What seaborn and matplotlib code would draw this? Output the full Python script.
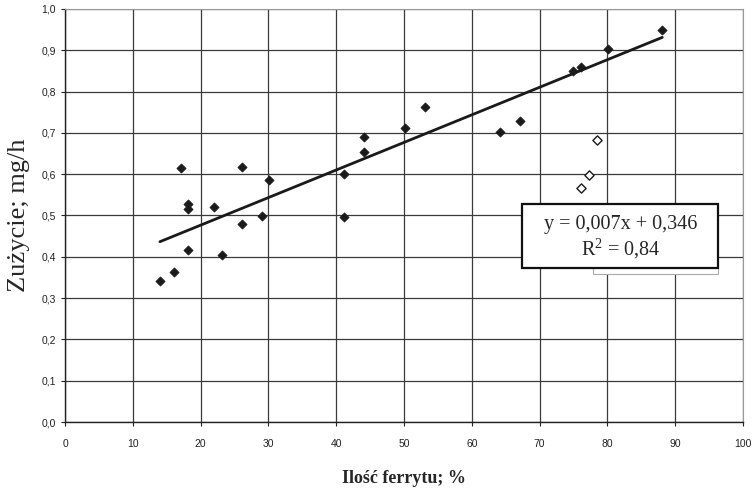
import numpy as np
import pandas as pd
import matplotlib
matplotlib.use("Agg")
import matplotlib.pyplot as plt
from matplotlib.patches import Rectangle
import seaborn as sns

# punkty pomiarowe - ferryt [%] i zuzycie [mg/h]
ferryt = [14.0, 16.1, 17.1, 18.1, 18.1, 18.1, 22.0, 23.2, 26.1, 26.1, 29.1, 30.1,
          41.2, 41.2, 44.1, 44.1, 50.1, 53.1, 64.2, 67.1, 74.9, 76.1, 80.1, 88.1]
zuzycie = [0.341, 0.363, 0.615, 0.528, 0.516, 0.416, 0.521, 0.404, 0.617, 0.479, 0.499, 0.586,
           0.600, 0.496, 0.690, 0.654, 0.712, 0.763, 0.702, 0.729, 0.850, 0.860, 0.903, 0.949]
# punkty odstajace (puste romby)
ferryt_odst = [76.1, 77.3, 78.5]
zuzycie_odst = [0.567, 0.598, 0.683]

x_ticks = list(range(0, 101, 10))
y_ticks = [i / 10 for i in range(0, 11)]
y_labels = ["0,0", "0,1", "0,2", "0,3", "0,4", "0,5", "0,6", "0,7", "0,8", "0,9", "1,0"]
rownanie = "y = 0,007x + 0,346"
r2 = "R$^2$ = 0,84"

df = pd.DataFrame({"ferryt": ferryt, "zuzycie": zuzycie})
df_o = pd.DataFrame({"ferryt": ferryt_odst, "zuzycie": zuzycie_odst})

sns.set_style("white")
plt.rcParams['font.family'] = ['Liberation Sans', 'DejaVu Sans']
plt.rcParams['mathtext.fontset'] = 'custom'
plt.rcParams['mathtext.rm'] = 'Liberation Serif'

fig = plt.figure(figsize=(7.55, 4.97), dpi=100)
ax = fig.add_axes([0.0861, 0.1509, 0.898, 0.831])

# linia trendu
sns.regplot(data=df, x="ferryt", y="zuzycie", scatter=False, ci=None, ax=ax,
            line_kws=dict(color="#1a1a1a", lw=2.0), truncate=True)
sns.scatterplot(data=df, x="ferryt", y="zuzycie", marker="D", s=22, color="#1a1a1a",
                edgecolor="#1a1a1a", linewidth=0.5, ax=ax, zorder=4)
sns.scatterplot(data=df_o, x="ferryt", y="zuzycie", marker="D", s=22, facecolor="white",
                edgecolor="#1a1a1a", linewidth=1.0, ax=ax, zorder=4)

ax.set_xlim(0, 100)
ax.set_ylim(0, 1.0)
ax.set_xticks(x_ticks)
ax.set_yticks(y_ticks)
ax.set_yticklabels(y_labels)
ax.grid(True, color="#3a3a3a", lw=0.9)
ax.set_axisbelow(True)
for s in ["top", "right"]:
    ax.spines[s].set_color("#999999")
    ax.spines[s].set_linewidth(0.8)
for s in ["left", "bottom"]:
    ax.spines[s].set_color("#222222")
    ax.spines[s].set_linewidth(1.0)
ax.tick_params(axis="both", labelsize=7.5, colors="#222222", length=3, width=0.8,
               direction="out", bottom=True, left=True)
ax.tick_params(axis="x", pad=9)

ax.set_xlabel("Ilość ferrytu; %", family="Liberation Serif", fontsize=13,
              fontweight="bold", labelpad=15)
ax.set_ylabel("Zużycie; mg/h", family="Liberation Serif", fontsize=19, labelpad=8)

# ramka z rownaniem
ax.add_patch(Rectangle((77.9, 0.358), 18.4, 0.015, facecolor="white",
                       edgecolor="#aaaaaa", lw=0.8, zorder=5))
ax.add_patch(Rectangle((67.4, 0.373), 28.9, 0.155, facecolor="white",
                       edgecolor="#111111", lw=1.6, zorder=6))
ax.text(81.9, 0.479, rownanie, ha="center", va="center", family="Liberation Serif",
        fontsize=14.5, zorder=7)
ax.text(81.9, 0.419, r2, ha="center", va="center", family="Liberation Serif",
        fontsize=14.5, zorder=7)

fig.savefig("out.png", dpi=100)
